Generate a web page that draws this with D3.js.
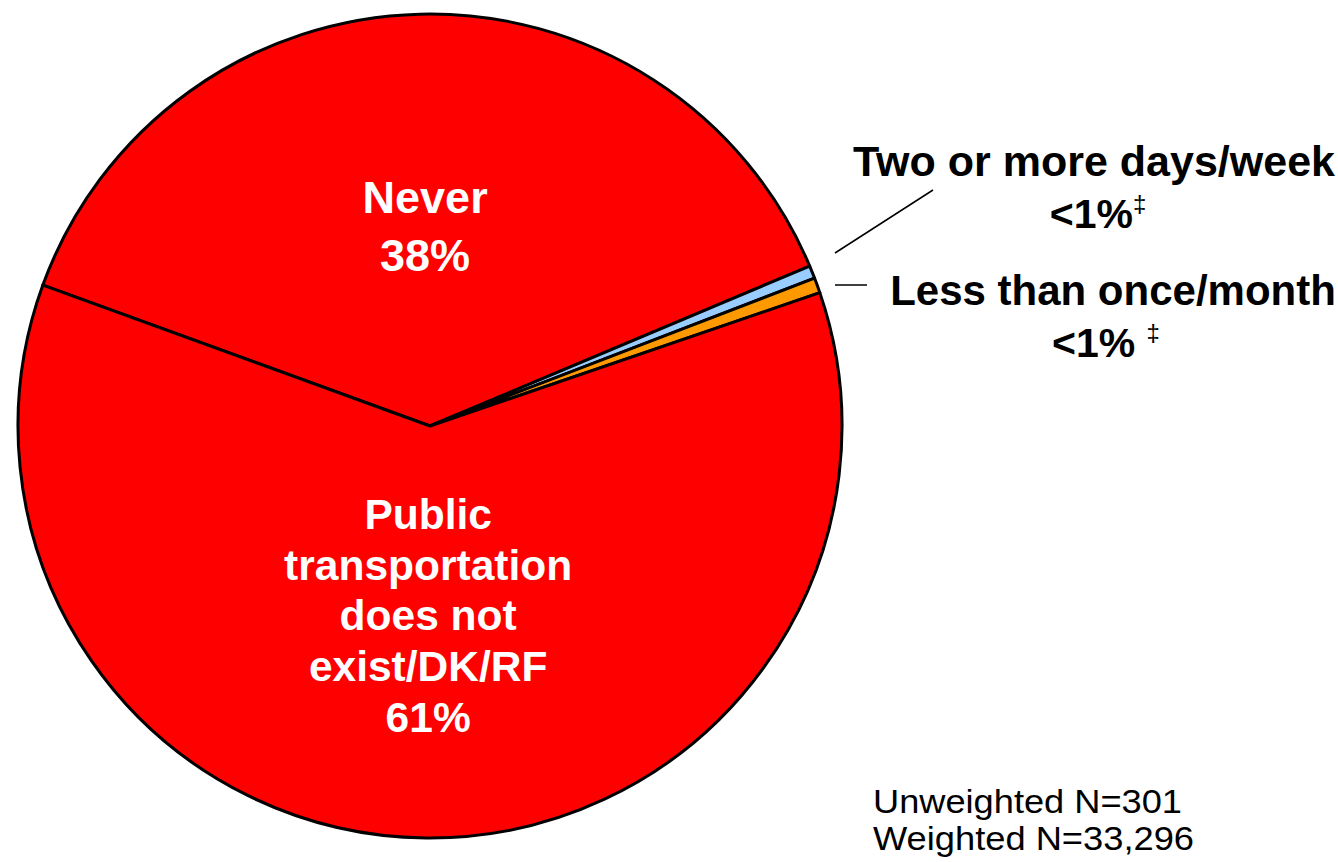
<!DOCTYPE html>
<html>
<head>
<meta charset="utf-8">
<script src="https://cdn.jsdelivr.net/npm/d3@7"></script>
<style>
  html, body { margin: 0; padding: 0; background: #fff; }
  svg { display: block; }
  text { font-family: "Liberation Sans", Arial, sans-serif; }
</style>
</head>
<body>
<svg id="chart" width="1338" height="862"></svg>
<script>
// ---- data ----
const categories = ["Never", "Two or more days/week", "Less than once/month", "Public transportation does not exist/DK/RF"];
const values = [38.1, 0.5, 0.6, 60.8];
const colors = ["#FF0000", "#99CCFF", "#FF9900", "#FF0000"];
const valueLabels = ["38%", "<1%", "<1%", "61%"];
const insideLabelLines = [["Never", "38%"], null, null, ["Public", "transportation", "does not", "exist/DK/RF", "61%"]];
const notes = ["Unweighted N=301", "Weighted N=33,296"];

// ---- layout ----
const svg = d3.select("#chart");
const cx = 430, cy = 426, R = 412;
const startDeg = -70;
const g = svg.append("g").attr("transform", `translate(${cx},${cy})`);

const pie = d3.pie().sort(null).value(d => d)
  .startAngle(startDeg * Math.PI / 180)
  .endAngle(startDeg * Math.PI / 180 + 2 * Math.PI);
const arcs = pie(values);
const arc = d3.arc().innerRadius(0).outerRadius(R);

g.selectAll("path.slice").data(arcs).enter().append("path")
  .attr("class", "slice")
  .attr("d", arc)
  .attr("fill", (d, i) => colors[i])
  .attr("stroke", "#000")
  .attr("stroke-width", 3)
  .attr("stroke-linejoin", "round");

// inside labels
const radialFrac = [0.4806, 0, 0, 0.462];
const lineGap = [58, 0, 0, 50.75];
const insideSize = [45, 0, 0, 42.5];
arcs.forEach((a, i) => {
  const lines = insideLabelLines[i];
  if (!lines) return;
  const mid = (a.startAngle + a.endAngle) / 2;
  const r = R * radialFrac[i];
  const x = Math.sin(mid) * r;
  const y = -Math.cos(mid) * r;
  const n = lines.length;
  const t = g.append("text")
    .attr("text-anchor", "middle")
    .attr("font-weight", "bold")
    .attr("font-size", insideSize[i])
    .attr("fill", "#fff");
  lines.forEach((ln, k) => {
    t.append("tspan")
      .attr("x", x)
      .attr("y", y + (k - (n - 1) / 2) * lineGap[i] + 14)
      .text(ln);
  });
});

// outside labels with leader lines
const outside = [
  { idx: 1, line: [[835, 253], [933, 190]], x1: 1094, x2: 1098, y1: 176, y2: 228, size: 43, dagGap: "" },
  { idx: 2, line: [[835, 285], [867, 285]], x1: 1113, x2: 1106, y1: 305, y2: 357, size: 42, dagGap: " " }
];
outside.forEach(o => {
  svg.append("line")
    .attr("x1", o.line[0][0]).attr("y1", o.line[0][1])
    .attr("x2", o.line[1][0]).attr("y2", o.line[1][1])
    .attr("stroke", "#000").attr("stroke-width", 1.5);
  svg.append("text")
    .attr("x", o.x1).attr("y", o.y1)
    .attr("text-anchor", "middle")
    .attr("font-weight", "bold").attr("font-size", o.size).attr("fill", "#000")
    .text(categories[o.idx]);
  const t2 = svg.append("text")
    .attr("x", o.x2).attr("y", o.y2)
    .attr("text-anchor", "middle")
    .attr("font-weight", "bold").attr("font-size", 41).attr("fill", "#000");
  t2.append("tspan").text(valueLabels[o.idx] + o.dagGap);
  t2.append("tspan").attr("font-size", 24).attr("font-weight", "normal").attr("dy", -16).text("\u2021");
});

// notes
const noteWidths = [309, 321];
notes.forEach((s, k) => {
  svg.append("text")
    .attr("x", 873).attr("y", 813 + k * 37)
    .attr("font-size", 33).attr("fill", "#000")
    .attr("textLength", noteWidths[k])
    .attr("lengthAdjust", "spacingAndGlyphs")
    .text(s);
});
</script>
</body>
</html>
